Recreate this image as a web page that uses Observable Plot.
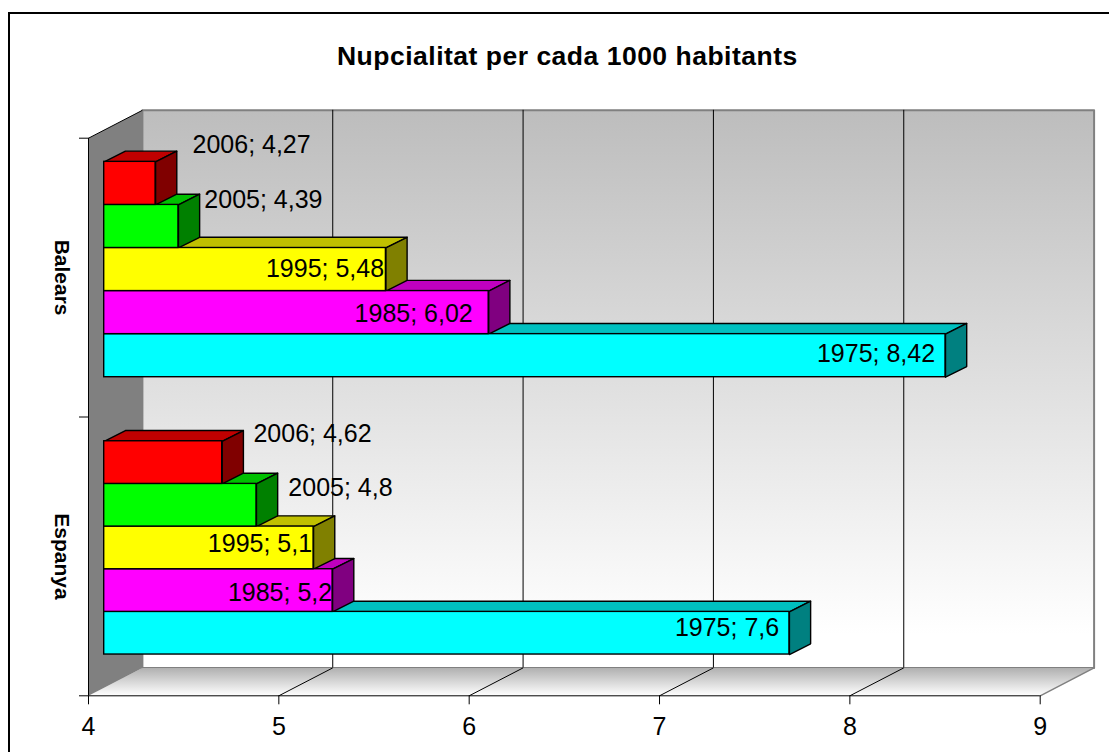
<!DOCTYPE html>
<html>
<head>
<meta charset="utf-8">
<script src="https://cdn.jsdelivr.net/npm/d3@7"></script>
<script src="https://cdn.jsdelivr.net/npm/@observablehq/plot@0.6"></script>
<style>
  html, body { margin: 0; padding: 0; background: #fff; }
  #wrap { position: relative; width: 1109px; height: 752px; overflow: hidden; }
  #wrap svg { display: block; }
  .edge { position: absolute; background: #000; }
</style>
</head>
<body>
<div id="wrap"></div>
<script>
// --- data -------------------------------------------------------------
const titleText = "Nupcialitat per cada 1000 habitants";
const categories = ["Espanya", "Balears"];
const years = [1975, 1985, 1995, 2005, 2006];
const espanyaValues = [7.6, 5.2, 5.1, 4.8, 4.62];
const balearsValues = [8.42, 6.02, 5.48, 4.39, 4.27];
const valueLabels = {
  Espanya: ["7,6", "5,2", "5,1", "4,8", "4,62"],
  Balears: ["8,42", "6,02", "5,48", "4,39", "4,27"]
};
const xTicks = [4, 5, 6, 7, 8, 9];
const yearColors = ["#00ffff", "#ff00ff", "#ffff00", "#00ff00", "#ff0000"];
const topColors = ["#00c0c0", "#c000c0", "#c0c000", "#00c000", "#c00000"];
const sideColors = ["#008080", "#800080", "#808000", "#008000", "#800000"];

// --- layout -----------------------------------------------------------
const W = 1109, H = 752;
const mL = 88, mR = 69.3, mT = 137.7, mB = 56.7;
const pxX = (W - mL - mR) / 5;      // pixels per x unit
const pxY = (H - mT - mB) / 2;      // pixels per category
const wallDx = 53.9 / pxX, wallDy = 27.9 / pxY;   // depth of the 3D box
const barX0 = 15.7 / pxX;                         // bars stand off the wall
const barDx = 21.2 / pxX, barDy = 10.7 / pxY;     // depth of each bar
const rowBase = { Espanya: 0.148, Balears: 1.1427 };
const rowH = { Espanya: 0.153, Balears: 0.1545 };
// label nudges (pixels) from the bar's right end and vertical centre
const labelNudge = {
  Espanya: [[-62.4, -5.7], [-52.6, 2], [-53.6, -3.4], [84, -17.7], [90.3, -29]],
  Balears: [[-69.5, -2], [-75, 1], [-60.9, -1], [85, -26], [96, -38]]
};

const bars = categories.flatMap((cat) => {
  const vals = cat === "Espanya" ? espanyaValues : balearsValues;
  return years.map((year, i) => ({
    cat, year, i, value: vals[i],
    x1: 4 + barX0, x2: vals[i] + barX0,
    y1: rowBase[cat] + i * rowH[cat],
    y2: rowBase[cat] + (i + 1) * rowH[cat],
    fill: yearColors[i], top: topColors[i], side: sideColors[i],
    label: `${year}; ${valueLabels[cat][i]}`,
    lx: vals[i] + barX0 + labelNudge[cat][i][0] / pxX,
    ly: rowBase[cat] + (i + 0.5) * rowH[cat] - labelNudge[cat][i][1] / pxY
  }));
});

const poly = (id, color, pts) => pts.map(([x, y]) => ({ id, color, x, y }));
const topFaces = bars.flatMap((b) => poly(`t${b.cat}${b.year}`, b.top, [
  [b.x1, b.y2], [b.x1 + barDx, b.y2 + barDy], [b.x2 + barDx, b.y2 + barDy], [b.x2, b.y2], [b.x1, b.y2]
]));
const sideFaces = bars.flatMap((b) => poly(`s${b.cat}${b.year}`, b.side, [
  [b.x2, b.y1], [b.x2 + barDx, b.y1 + barDy], [b.x2 + barDx, b.y2 + barDy], [b.x2, b.y2], [b.x2, b.y1]
]));

const toPts = (a) => a.map(([x, y]) => ({ x, y }));
const backWall = toPts([[4 + wallDx, wallDy], [9 + wallDx, wallDy], [9 + wallDx, 2 + wallDy], [4 + wallDx, 2 + wallDy], [4 + wallDx, wallDy]]);
const floorFace = toPts([[4, 0], [9, 0], [9 + wallDx, wallDy], [4 + wallDx, wallDy], [4, 0]]);
const sideWall = toPts([[4, 0], [4 + wallDx, wallDy], [4 + wallDx, 2 + wallDy], [4, 2], [4, 0]]);

const gradientDefs = () => {
  const defs = d3.create("svg:defs");
  const grad = (id, a, b, end) => {
    const g = defs.append("linearGradient").attr("id", id).attr("x1", 0).attr("y1", 0).attr("x2", 0).attr("y2", 1);
    g.append("stop").attr("offset", "0%").attr("stop-color", a);
    g.append("stop").attr("offset", end).attr("stop-color", b);
  };
  grad("wallGrad", "#bdbdbd", "#ffffff", "94%");
  grad("floorGrad", "#b0b0b0", "#ffffff", "100%");
  return defs.node();
};

const chart = Plot.plot({
  width: W, height: H,
  marginLeft: mL, marginRight: mR, marginTop: mT, marginBottom: mB,
  x: { domain: [4, 9] },
  y: { domain: [0, 2] },
  color: { type: "identity" },
  style: { fontFamily: "'Liberation Sans', Arial, sans-serif", background: "#fff", color: "#000" },
  marks: [
    gradientDefs,
    // box: back wall, floor, side wall
    Plot.line(backWall, { x: "x", y: "y", fill: "url(#wallGrad)", stroke: "#808080", strokeWidth: 2 }),
    Plot.line(floorFace, { x: "x", y: "y", fill: "url(#floorGrad)", stroke: "none" }),
    Plot.line(floorFace.slice(1, 3), { x: "x", y: "y", stroke: "#808080", strokeWidth: 1.5 }),
    Plot.line(sideWall, { x: "x", y: "y", fill: "#808080", stroke: "none" }),
    // grid on the back wall and on the floor
    Plot.ruleX(xTicks.slice(1, -1), { x: (d) => d + wallDx, y1: wallDy, y2: 2 + wallDy, stroke: "#000", strokeWidth: 1 }),
    Plot.link(xTicks.slice(1, -1), { x1: (d) => d, y1: 0, x2: (d) => d + wallDx, y2: wallDy, stroke: "#000", strokeWidth: 1 }),
    Plot.link([4], { x1: (d) => d, y1: 2, x2: (d) => d + wallDx, y2: 2 + wallDy, stroke: "#000", strokeWidth: 1 }),
    Plot.ruleY([0], { stroke: "#000", strokeWidth: 1 }),
    Plot.ruleX([4], { stroke: "#000", strokeWidth: 1 }),
    // axes
    Plot.axisX({ ticks: xTicks, tickSize: 9, tickPadding: 12, fontSize: 25, tickFormat: (d) => String(d), label: null, stroke: "#000", strokeOpacity: 1 }),
    Plot.axisY({ ticks: [0, 1, 2], tickSize: 9, tickFormat: () => "", label: null, stroke: "#000", strokeOpacity: 1 }),
    // category names
    Plot.text(categories, { x: 4, y: (d, i) => i + 0.5, dx: -27, text: (d) => d, rotate: 90, fontWeight: "bold", fontSize: 21, fill: "#000" }),
    // 3D bars
    Plot.line(topFaces, { x: "x", y: "y", z: "id", fill: "color", stroke: "#000", strokeWidth: 1.4 }),
    Plot.line(sideFaces, { x: "x", y: "y", z: "id", fill: "color", stroke: "#000", strokeWidth: 1.4 }),
    Plot.rect(bars, { x1: "x1", x2: "x2", y1: "y1", y2: "y2", fill: "fill", stroke: "#000", strokeWidth: 1.4 }),
    // data labels
    Plot.text(bars, { x: "lx", y: "ly", text: "label", fontSize: 25, fill: "#000" }),
    // title
    Plot.text([titleText], { frameAnchor: "top", dx: 3, dy: -92, text: (d) => d, fontSize: 26.5, fontWeight: "bold", fill: "#000" })
  ]
});

// the title is set a touch wider than the font's natural width
d3.select(chart).selectAll("text").filter(function () { return this.textContent === titleText; }).style("letter-spacing", "0.5px");

const wrap = document.getElementById("wrap");
wrap.appendChild(chart);
// chart frame: only its top and left edges fall inside the picture
const edgeTop = document.createElement("div");
edgeTop.className = "edge";
edgeTop.style.cssText = "left:8px;top:12px;width:1101px;height:1.5px";
const edgeLeft = document.createElement("div");
edgeLeft.className = "edge";
edgeLeft.style.cssText = "left:8px;top:12px;width:1.5px;height:740px";
wrap.append(edgeTop, edgeLeft);
</script>
</body>
</html>
